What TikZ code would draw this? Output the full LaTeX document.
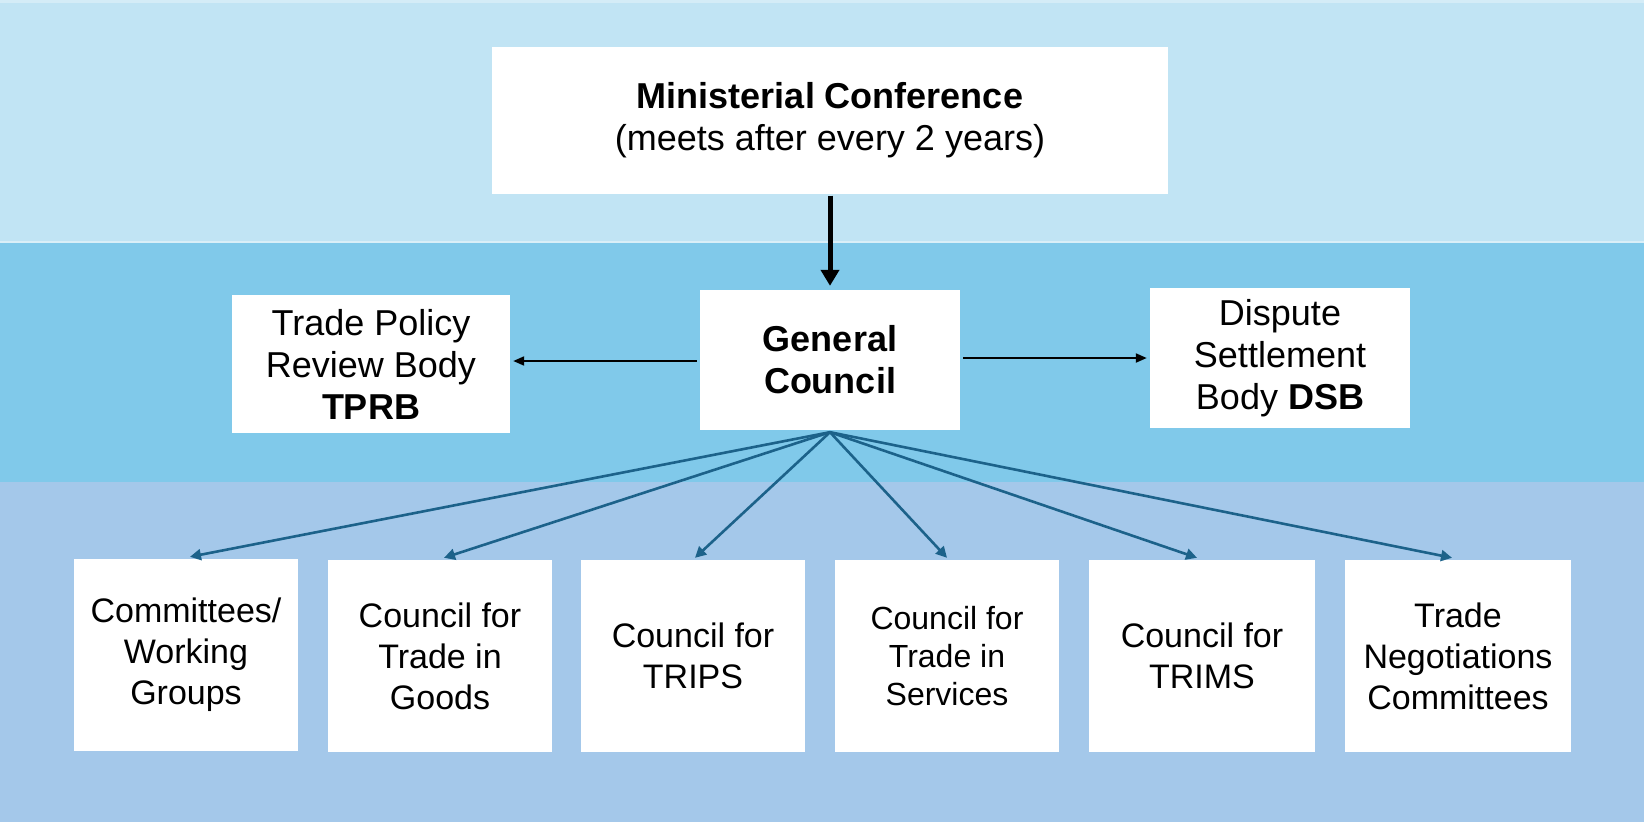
\documentclass[tikz,border=0pt]{standalone}
\usepackage{fontspec}
\setmainfont{Liberation Sans}
\usetikzlibrary{arrows.meta}
\definecolor{bandA}{RGB}{193,228,244}
\definecolor{bandB}{RGB}{128,201,234}
\definecolor{bandC}{RGB}{164,200,234}
\definecolor{arrblue}{RGB}{28,98,138}
\tikzset{
  box/.style={draw=none, fill=white, align=center, inner sep=0pt, font=\fontsize{36}{42}\selectfont},
  lowbox/.style={box, font=\fontsize{34}{41}\selectfont},
  small/.style={font=\fontsize{32}{38}\selectfont},
  child/.style={draw=arrblue, line width=2.6pt, -{Triangle[length=11pt,width=11pt]}},
  side/.style={draw=black, line width=2pt, -{Triangle[length=11pt,width=9pt]}},
  down/.style={draw=black, line width=5pt, -{Triangle[length=16pt,width=18pt]}}
}
\begin{document}
\begin{tikzpicture}[x=1pt,y=-1pt]
\useasboundingbox (0,0) rectangle (1644,822);
% bands
\fill[bandA] (0,0) rectangle (1644,242);
\fill[bandB] (0,242) rectangle (1644,482);
\fill[bandC] (0,482) rectangle (1644,822);
\fill[bandA!70!white] (0,0) rectangle (1644,3);
\draw[bandA!60!white, line width=1.5pt] (0,242) -- (1644,242);
% nodes
\node[box, minimum width=676pt, minimum height=147pt] (mc) at (830,120)
  {\textbf{Ministerial Conference}\\(meets after every 2 years)};
\node[box, minimum width=260pt, minimum height=140pt] (gc) at (830,360)
  {\textbf{General}\\\textbf{Council}};
\node[box, minimum width=278pt, minimum height=138pt] (tprb) at (371,364)
  {Trade Policy\\Review Body\\\textbf{TPRB}};
\node[box, minimum width=260pt, minimum height=140pt] (dsb) at (1280,358)
  {Dispute\\Settlement\\Body \textbf{DSB}};
\node[lowbox, minimum width=224pt, minimum height=192pt] (c1) at (186,655)
  {Committees/\\Working\\Groups};
\node[lowbox, minimum width=224pt, minimum height=192pt] (c2) at (440,656)
  {Council for\\Trade in\\Goods};
\node[lowbox, minimum width=224pt, minimum height=192pt] (c3) at (693,656)
  {Council for\\TRIPS};
\node[lowbox, small, minimum width=224pt, minimum height=192pt] (c4) at (947,656)
  {Council for\\Trade in\\Services};
\node[lowbox, minimum width=226pt, minimum height=192pt] (c5) at (1202,656)
  {Council for\\TRIMS};
\node[lowbox, minimum width=226pt, minimum height=192pt] (c6) at (1458,656)
  {Trade\\Negotiations\\Committees};
% connectors
\coordinate (gcb) at ([yshift=-2pt]gc.south);
\draw[down] ([yshift=-2pt]mc.south) -- ([yshift=4pt]gc.north);
\draw[side] ([xshift=-3pt]gc.west |- 0,361) -- ([xshift=3pt]tprb.east |- 0,361);
\draw[side] ([xshift=3pt]gc.east |- 0,358) -- ([xshift=-3pt]dsb.west |- 0,358);
\draw[child] (gcb) -- ([xshift=4pt,yshift=2pt]c1.north);
\draw[child] (gcb) -- ([xshift=4pt,yshift=2pt]c2.north);
\draw[child] (gcb) -- ([xshift=2pt,yshift=2pt]c3.north);
\draw[child] (gcb) -- ([yshift=2pt]c4.north);
\draw[child] (gcb) -- ([xshift=-5pt,yshift=2pt]c5.north);
\draw[child] (gcb) -- ([xshift=-6pt,yshift=2pt]c6.north);
\end{tikzpicture}
\end{document}
